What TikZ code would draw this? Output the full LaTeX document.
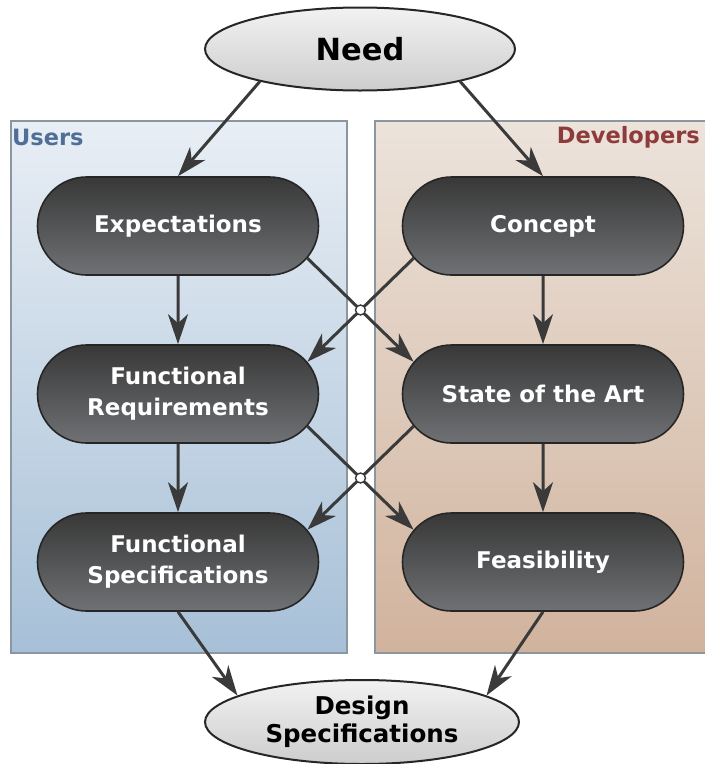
\documentclass[tikz,border=0pt]{standalone}
\usepackage{fontspec}
\setmainfont{DejaVu Sans}
\usetikzlibrary{shapes.misc,shapes.geometric,arrows.meta,calc}
\definecolor{arr}{HTML}{3A3A3A}
\definecolor{nodetop}{HTML}{383838}
\definecolor{nodebot}{HTML}{6F7174}
\definecolor{goaltop}{HTML}{F2F2F2}
\definecolor{goalbot}{HTML}{CDCDCD}
\definecolor{usertop}{HTML}{E8EEF5}
\definecolor{userbot}{HTML}{A7C0D7}
\definecolor{devtop}{HTML}{ECE3DB}
\definecolor{devbot}{HTML}{D1B39D}
\definecolor{userc}{HTML}{4F6F96}
\definecolor{devc}{HTML}{8E3B3B}
\definecolor{panelline}{HTML}{8C96A0}
\begin{document}
\begin{tikzpicture}[x=1pt,y=-1pt,
  panel/.style={draw=panelline, line width=1.2pt},
  stage/.style={rounded rectangle, draw=black!85, line width=1.6pt,
    top color=nodetop, bottom color=nodebot, minimum width=281pt,
    minimum height=98pt, text=white, inner sep=0pt, align=center,
    font=\fontsize{23}{31}\selectfont\bfseries},
  goal/.style={ellipse, draw=black!85, line width=2pt, top color=goaltop,
    bottom color=goalbot, inner sep=0pt, align=center, text=black},
  flow/.style={draw=arr, line width=3pt,
    -{Stealth[length=30pt,width=20pt,inset=9pt]}},
  hop/.style={circle, draw=arr, line width=1.4pt, fill=white,
    minimum size=10pt, inner sep=0pt},
  grouplabel/.style={font=\fontsize{22.5}{26}\selectfont\bfseries, inner sep=0pt}
]
\useasboundingbox (0,0) rectangle (705,764);
\path[panel, top color=usertop, bottom color=userbot] (11,121) rectangle (347,653);
\path[panel, top color=devtop, bottom color=devbot] (375,121) rectangle (712,653);
\node[grouplabel, anchor=base west, text=userc] (ulab) at (12,145) {Users};
\node[grouplabel, anchor=base east, text=devc] (dlab) at (700,143) {Developers};

\node[goal, minimum width=310pt, minimum height=83pt,
  font=\fontsize{30.5}{36}\selectfont\bfseries] (need) at (360,49) {Need};
\node[goal, minimum width=314pt, minimum height=84pt,
  font=\fontsize{24.5}{28}\selectfont\bfseries] (des) at (362,722) {Design\\Specifications};

\node[stage] (exp) at (178,226) {Expectations};
\node[stage] (con) at (543,226) {Concept};
\node[stage] (fr) at (178,394) {Functional\\Requirements};
\node[stage] (sota) at (543,394) {State of the Art};
\node[stage] (fs) at (178,562) {Functional\\Specifications};
\node[stage] (fea) at (543,562) {Feasibility};

\draw[flow] (need.198) -- (exp.north);
\draw[flow] (need.-18) -- (con.north);
\draw[flow] (exp) -- (fr);
\draw[flow] (con) -- (sota);
\draw[flow] (fr) -- (fs);
\draw[flow] (sota) -- (fea);
\draw[flow] (exp.-14) -- (sota.166);
\draw[flow] (con.194) -- (fr.14);
\draw[flow] (fr.-14) -- (fea.166);
\draw[flow] (sota.194) -- (fs.14);
\draw[flow] (fs.south) -- (des.168);
\draw[flow] (fea.south) -- (des.12);

\coordinate (x1) at ($(exp.-14)!0.5!(sota.166)$);
\coordinate (x2) at ($(fr.-14)!0.5!(fea.166)$);
\node[hop] (h1) at (x1) {};
\node[hop] (h2) at (x2) {};
\end{tikzpicture}
\end{document}
